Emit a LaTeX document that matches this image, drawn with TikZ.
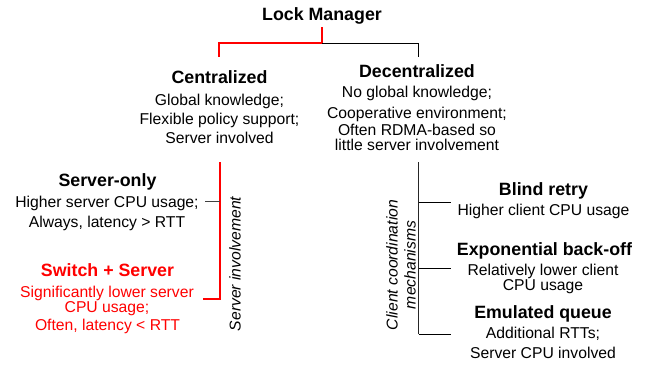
\documentclass[tikz,border=0pt]{standalone}
\usepackage{fontspec}
\setmainfont{Liberation Sans}
\begin{document}
\begin{tikzpicture}[x=1pt,y=-1pt,
  head/.style={anchor=base,inner sep=0pt,font=\fontsize{17.8}{20}\selectfont\bfseries},
  body/.style={anchor=base,inner sep=0pt,font=\fontsize{15.7}{18}\selectfont},
  side/.style={inner sep=0pt,rotate=90,align=center,font=\fontsize{15.7}{18}\selectfont\itshape},
  redline/.style={draw=red,line width=2pt},
  blkline/.style={draw=black,line width=1pt}]
\useasboundingbox (0,0) rectangle (646,365);
% top
\node[head] (lm) at (322,20) {Lock Manager};
\node[head] (cen) at (219.5,83) {Centralized};
\node[body] (c1) at (219.5,105) {Global knowledge;};
\node[body] (c2) at (219.5,124) {Flexible policy support;};
\node[body] (c3) at (219.5,143) {Server involved};
\node[head] (dec) at (417,77) {Decentralized};
\node[body] (d1) at (417,97) {No global knowledge;};
\node[body] (d2) at (417,118) {Cooperative environment;};
\node[body] (d3) at (417,135.5) {Often RDMA-based so};
\node[body] (d4) at (417,150.5) {little server involvement};
\coordinate (lmb) at (322,27);
\coordinate (fork) at (322,43);
\coordinate (cenT) at (219,57);
\coordinate (decT) at (418,57);
\draw[redline] (lmb) -- (fork) -| (cenT);
\draw[blkline] (fork) -| (decT);
% left
\node[head] (so) at (107.5,186.5) {Server-only};
\node[body] (so1) at (107,207) {Higher server CPU usage;};
\node[body] (so2) at (107,227) {Always, latency > RTT};
\node[head,text=red] (ss) at (107.5,276.5) {Switch + Server};
\node[body,text=red] (ss1) at (107,297.5) {Significantly lower server};
\node[body,text=red] (ss2) at (107,312) {CPU usage;};
\node[body,text=red] (ss3) at (107.5,330) {Often, latency < RTT};
\coordinate (lt) at (220,162);
\coordinate (lb) at (220,299);
\coordinate (lbe) at (203,299);
\coordinate (lm1) at (220,201);
\coordinate (lm1e) at (205,201);
\draw[redline] (lt) -- (lb) -- (lbe);
\draw[draw=black!75,line width=1pt] (lm1) -- (lm1e);
\node[side] (si) at (235,264) {Server involvement};
% right
\node[head] (br) at (543.5,195.5) {Blind retry};
\node[body] (br1) at (543.5,215) {Higher client CPU usage};
\node[head] (eb) at (544.5,255.5) {Exponential back-off};
\node[body] (eb1) at (543,275.5) {Relatively lower client};
\node[body] (eb2) at (543,290) {CPU usage};
\node[head] (eq) at (543,318.5) {Emulated queue};
\node[body] (eq1) at (543,338) {Additional RTTs;};
\node[body] (eq2) at (543,358) {Server CPU involved};
\coordinate (rt) at (418.5,162);
\coordinate (r1) at (418.5,202);
\coordinate (r2) at (418.5,268);
\coordinate (r3) at (418.5,334);
\coordinate (r1e) at (451,202);
\coordinate (r2e) at (451,268);
\coordinate (r3e) at (451,334);
\draw[draw=black!85,line width=1.4pt] (rt) -- (r3);
\draw[blkline] (r1) -- (r1e);
\draw[blkline] (r2) -- (r2e);
\draw[blkline] (r3) -- (r3e);
\node[side] (ccm) at (401,265) {Client coordination\\mechanisms};
\end{tikzpicture}
\end{document}
